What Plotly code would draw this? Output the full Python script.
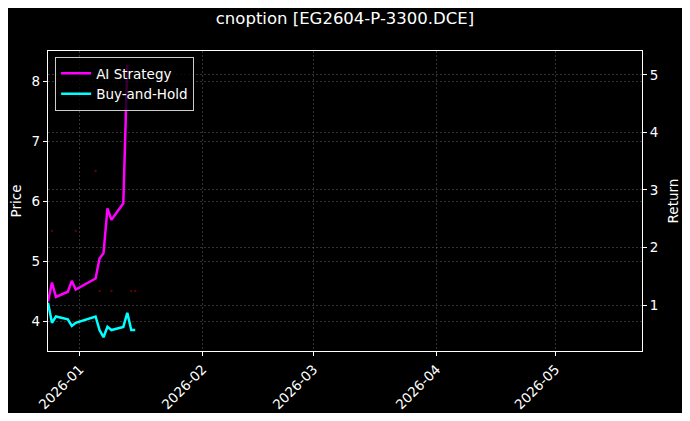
import plotly.graph_objects as go

dates = ["2025-12-24", "2025-12-25", "2025-12-26", "2025-12-29", "2025-12-30", "2025-12-31",
         "2026-01-05", "2026-01-06", "2026-01-07", "2026-01-08", "2026-01-09", "2026-01-12",
         "2026-01-13", "2026-01-14", "2026-01-15"]
ai_strategy = [1.06, 1.39, 1.14, 1.23, 1.42, 1.27, 1.46, 1.81, 1.90, 2.68, 2.48, 2.77, 5.18, None, None]
buy_hold = [1.04, 0.69, 0.80, 0.75, 0.635, 0.69, 0.80, 0.565, 0.44, 0.62, 0.565, 0.62, 0.865, 0.565, 0.565]

price_dates = ["2025-12-25", "2025-12-31", "2026-01-05", "2026-01-06", "2026-01-09", "2026-01-14", "2026-01-15"]
price_vals = [5.5, 5.5, 6.5, 4.5, 4.5, 4.5, 4.5]

x_ticks = ["2026-01-01", "2026-02-01", "2026-03-01", "2026-04-01", "2026-05-01"]
x_tick_text = ["2026-01", "2026-02", "2026-03", "2026-04", "2026-05"]

FONT = "DejaVu Sans"
GRID = "rgba(128,128,128,0.4)"

# page body has an 8px default margin; figure sized so that page == window
W, H = 674, 405

fig = go.Figure()
fig.add_trace(go.Scatter(x=price_dates, y=price_vals, mode="markers",
                         marker=dict(color="rgba(150,0,0,0.6)", size=2.5),
                         showlegend=False, yaxis="y", hoverinfo="skip"))
fig.add_trace(go.Scatter(x=dates, y=ai_strategy, mode="lines", name="AI Strategy",
                         line=dict(color="#ff00ff", width=2.5), yaxis="y2"))
fig.add_trace(go.Scatter(x=dates, y=buy_hold, mode="lines", name="Buy-and-Hold",
                         line=dict(color="#00ffff", width=2.5), yaxis="y2"))

axis_common = dict(showline=True, linecolor="white", linewidth=1.3,
                   ticks="outside", ticklen=4, tickcolor="white",
                   showgrid=True, gridcolor=GRID, griddash="2px,2px", gridwidth=0.6,
                   zeroline=False, automargin=False, tickfont=dict(size=13.5))

fig.update_layout(
    width=W, height=H,
    paper_bgcolor="black", plot_bgcolor="black",
    margin=dict(l=40, r=40, t=43, b=62, pad=0),
    font=dict(family=FONT, color="white", size=13.5),
    title=dict(text="cnoption [EG2604-P-3300.DCE]", x=0.5, xanchor="center",
               y=1 - 10 / H, yanchor="middle", font=dict(size=16.5, family=FONT, color="white")),
    xaxis=dict(type="date", range=["2025-12-24 00:00", "2026-05-22 20:00"],
               tickvals=x_ticks, ticktext=x_tick_text, tickangle=-45, mirror=True,
               **axis_common),
    yaxis=dict(range=[3.5, 8.5], tickvals=[4, 5, 6, 7, 8],
               title=dict(text="Price", font=dict(size=13.5), standoff=6),
               **axis_common),
    yaxis2=dict(range=[0.2, 5.417], tickvals=[1, 2, 3, 4, 5], overlaying="y", side="right",
                title=dict(text="Return", font=dict(size=13.5), standoff=11),
                **axis_common),
    legend=dict(x=0.012, y=0.98, xanchor="left", yanchor="top",
                bgcolor="rgba(0,0,0,0.8)", bordercolor="#cccccc", borderwidth=1,
                font=dict(size=13.5, color="white"), tracegroupgap=0),
    showlegend=True,
)

fig.write_html("out.html")
